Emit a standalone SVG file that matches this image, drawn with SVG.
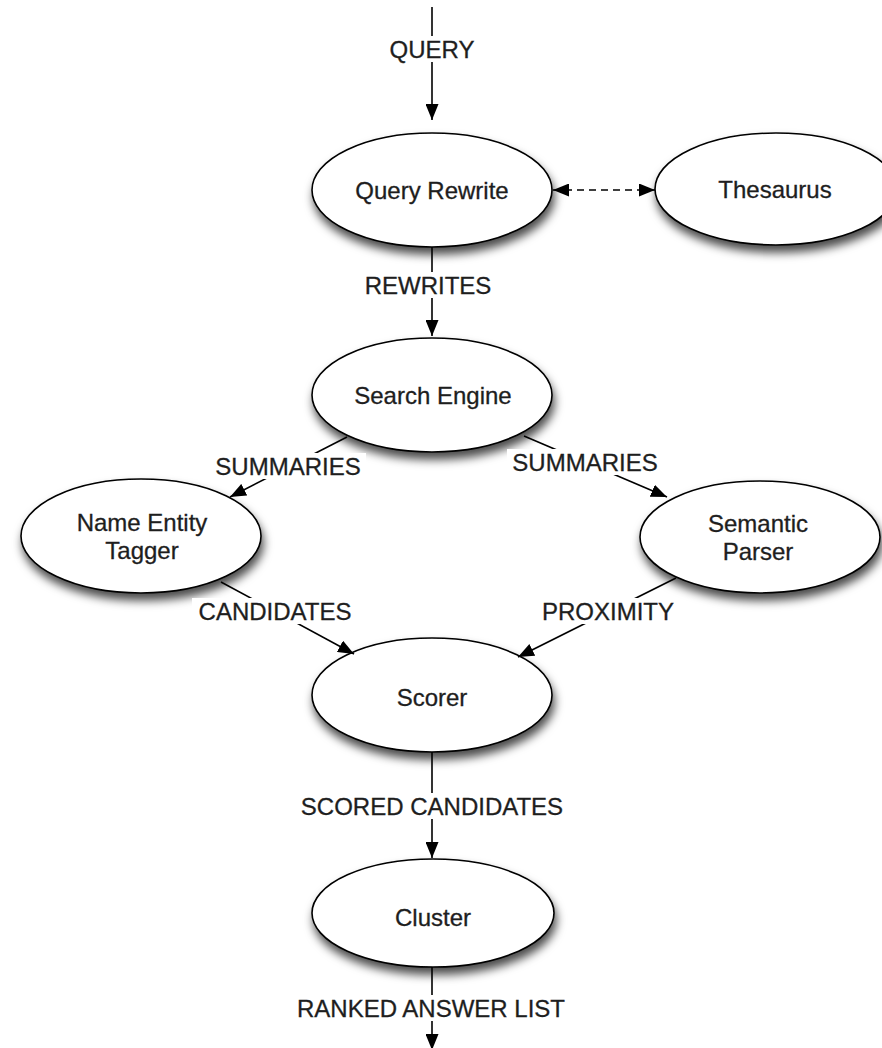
<svg xmlns="http://www.w3.org/2000/svg" width="882" height="1048" viewBox="0 0 882 1048">
<style>
.node ellipse{fill:#fff;stroke:#000;stroke-width:1.6;filter:url(#sh)}
.node text,.lbl text{font-family:"Liberation Sans",Arial,sans-serif;font-size:24px;fill:#1e1e1e;stroke:#1e1e1e;stroke-width:0.3;text-anchor:middle;dominant-baseline:central}
.edge{stroke:#000;stroke-width:1.6;fill:none;marker-end:url(#ah)}
.dash{stroke-dasharray:7 5}
.lbl rect{fill:#fff}
</style>
<defs>
<filter id="sh" x="-20%" y="-20%" width="150%" height="160%">
<feDropShadow dx="2" dy="7" stdDeviation="5" flood-color="#000" flood-opacity="0.7"/>
</filter>
<marker id="ah" markerUnits="userSpaceOnUse" markerWidth="17" markerHeight="13" refX="16" refY="6.5" orient="auto">
<path d="M0,0 L16,6.5 L0,13 z" fill="#000"/>
</marker>
<marker id="as" markerUnits="userSpaceOnUse" markerWidth="17" markerHeight="13" refX="0" refY="6.5" orient="auto">
<path d="M16,0 L0,6.5 L16,13 z" fill="#000"/>
</marker>
</defs>
<g id="n-query-rewrite" class="node"><ellipse cx="432" cy="190" rx="120" ry="57"/><text x="432" y="190">Query Rewrite</text></g>
<g id="n-thesaurus" class="node"><ellipse cx="776" cy="189" rx="121" ry="56"/><text x="775" y="189">Thesaurus</text></g>
<g id="n-search-engine" class="node"><ellipse cx="432" cy="395" rx="120" ry="57"/><text x="433" y="395">Search Engine</text></g>
<g id="n-name-entity-tagger" class="node"><ellipse cx="141" cy="536" rx="120" ry="57"/><text x="142" y="522">Name Entity</text><text x="142" y="550">Tagger</text></g>
<g id="n-semantic-parser" class="node"><ellipse cx="760" cy="537" rx="120" ry="56"/><text x="758" y="523">Semantic</text><text x="758" y="551">Parser</text></g>
<g id="n-scorer" class="node"><ellipse cx="432" cy="695" rx="120" ry="57"/><text x="432" y="697">Scorer</text></g>
<g id="n-cluster" class="node"><ellipse cx="433" cy="913" rx="121" ry="54"/><text x="433" y="917">Cluster</text></g>
<g id="connectors">
<line class="edge" x1="432" y1="7" x2="432" y2="120"/>
<line class="edge" x1="432" y1="247" x2="432" y2="336"/>
<line class="edge dash" x1="553" y1="190" x2="655" y2="190" marker-start="url(#as)"/>
<line class="edge" x1="347" y1="437" x2="230" y2="497"/>
<line class="edge" x1="524" y1="436" x2="667" y2="497"/>
<line class="edge" x1="221" y1="582" x2="354" y2="654"/>
<line class="edge" x1="676" y1="578" x2="518" y2="657"/>
<line class="edge" x1="432" y1="752" x2="432" y2="858"/>
<line class="edge" x1="432" y1="967" x2="432" y2="1050"/>
<g class="lbl">
<rect x="392" y="36" width="82" height="26"/><text x="432" y="49">QUERY</text>
<rect x="356" y="272" width="144" height="26"/><text x="428" y="285">REWRITES</text>
<rect x="210" y="453" width="156" height="26"/><text x="288" y="466">SUMMARIES</text>
<rect x="507" y="449" width="156" height="26"/><text x="585" y="462">SUMMARIES</text>
<rect x="192" y="598" width="166" height="26"/><text x="275" y="611">CANDIDATES</text>
<rect x="536" y="598" width="144" height="26"/><text x="608" y="611">PROXIMITY</text>
<rect x="294" y="793" width="276" height="26"/><text x="432" y="806">SCORED CANDIDATES</text>
<rect x="292" y="995" width="278" height="26"/><text x="431" y="1008">RANKED ANSWER LIST</text>
</g>
</g>
</svg>
